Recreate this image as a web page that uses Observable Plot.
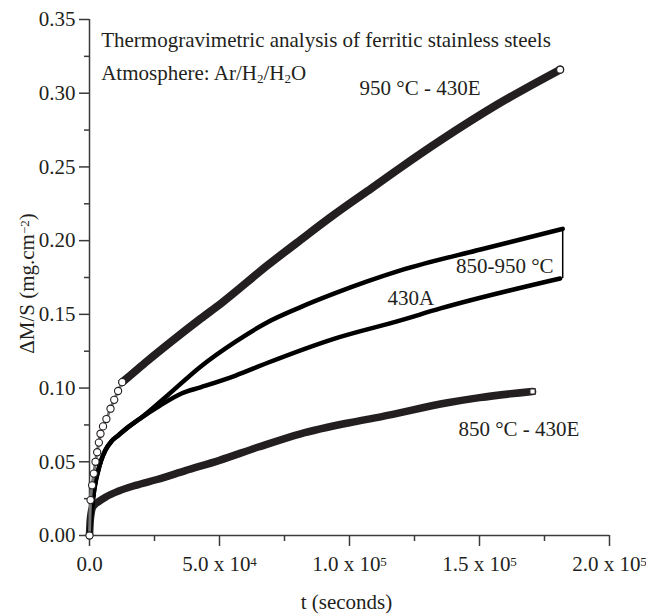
<!DOCTYPE html>
<html>
<head>
<meta charset="utf-8">
<script src="https://cdn.jsdelivr.net/npm/d3@7"></script>
<script src="https://cdn.jsdelivr.net/npm/@observablehq/plot@0.6"></script>
<style>
  html, body { margin: 0; padding: 0; background: #fff; }
</style>
</head>
<body>
<div id="chart"></div>
<script>
// ---- data (t in seconds, ΔM/S in mg.cm^-2) ----
const s950E = [
  [0, 0], [400, 0.024], [1000, 0.034], [1650, 0.042], [2300, 0.050], [2950, 0.0565],
  [3600, 0.063], [4230, 0.069], [5200, 0.074], [6500, 0.079], [8080, 0.086], [9500, 0.092],
  [11000, 0.098], [12600, 0.104], [16000, 0.109], [22000, 0.118], [31800, 0.132],
  [42700, 0.147], [51000, 0.158], [68300, 0.183], [81200, 0.2005], [94000, 0.2175],
  [106800, 0.2335], [119600, 0.2495], [135000, 0.268], [157000, 0.2925], [181000, 0.316]
];
const s430A_high = [
  [0, 0], [300, 0.008], [800, 0.016], [1500, 0.027], [2300, 0.036], [3200, 0.043],
  [4300, 0.050], [6150, 0.058], [8500, 0.064], [11150, 0.068], [14500, 0.073], [19600, 0.0795],
  [30000, 0.095], [42700, 0.1145], [56200, 0.1315], [68300, 0.1445], [81200, 0.1549],
  [94000, 0.164], [106800, 0.1723], [119600, 0.1798], [150400, 0.194], [182000, 0.208]
];
const s430A_low = [
  [0, 0], [300, 0.008], [800, 0.016], [1500, 0.027], [2300, 0.036], [3200, 0.043],
  [4300, 0.050], [6150, 0.058], [8500, 0.064], [11150, 0.068], [14500, 0.073], [19600, 0.0795],
  [27000, 0.088], [35600, 0.0965], [42700, 0.1005], [56200, 0.1085], [68300, 0.117],
  [94000, 0.1334], [119600, 0.1459], [135000, 0.154], [181000, 0.1743]
];
const s850E = [
  [0, 0], [200, 0.008], [600, 0.015], [1150, 0.019], [2000, 0.021], [3500, 0.023],
  [6150, 0.026], [11000, 0.030], [17700, 0.034], [26000, 0.038], [36900, 0.044],
  [50000, 0.051], [65000, 0.060], [81200, 0.069], [100000, 0.0765], [112000, 0.0805],
  [137700, 0.090], [150000, 0.0935], [170400, 0.0977]
];

const yMajor = [0, 0.05, 0.10, 0.15, 0.20, 0.25, 0.30, 0.35];
const yMinor = [0.025, 0.075, 0.125, 0.175, 0.225, 0.275, 0.325];
const xMajor = [0, 50000, 100000, 150000, 200000];
const xMajorLabels = ["0.0", "5.0 x 10^{4}", "1.0 x 10^{5}", "1.5 x 10^{5}", "2.0 x 10^{5}"];
const xMinor = [25000, 75000, 125000, 175000];

const titleLines = ["Thermogravimetric analysis of ferritic stainless steels", "Atmosphere: Ar/H_{2}/H_{2}O"];
const xLabel = "t (seconds)";
const yLabel = "ΔM/S (mg.cm^{−2})";

// annotation anchors, in data units
const labelsStart = [
  {text: titleLines[0], t: 4500, v: 0.3358},
  {text: titleLines[1], t: 4500, v: 0.3134},
  {text: "430A", t: 114600, v: 0.1608},
  {text: "850 °C - 430E", t: 141900, v: 0.0719}
];
const labelsEnd = [
  {text: "950 °C - 430E", t: 150400, v: 0.3031},
  {text: "850-950 °C", t: 178500, v: 0.1825}
];

// ---- chart ----
const INK = "#231f20";
const AX = "#3a3a3a";
const knee = 12600;
const early950 = s950E.filter(d => d[0] <= knee);
const late950 = s950E.filter(d => d[0] >= knee);
const X = d => d[0], Y = d => d[1];
const bracket = [{t: s430A_high.at(-1)[0], v1: s430A_low.at(-1)[1], v2: s430A_high.at(-1)[1]}];

const plot = Plot.plot({
  width: 646,
  height: 616,
  marginLeft: 89,
  marginRight: 37,
  marginTop: 19,
  marginBottom: 81,
  x: {domain: [0, 200000]},
  y: {domain: [0, 0.35]},
  style: {fontFamily: "'Liberation Serif', 'Times New Roman', serif", fontSize: "21px", background: "#fff", color: INK},
  marks: [
    Plot.axisY(yMajor, {tickSize: 10, tickPadding: 4, tickFormat: d3.format(".2f"), stroke: AX, strokeWidth: 1.5, fill: INK, label: null}),
    Plot.axisY(yMinor, {tickSize: 5, tickFormat: () => "", stroke: AX, strokeWidth: 1.5, label: null}),
    Plot.axisX(xMajor, {tickSize: 11, tickPadding: 10, tickFormat: d => xMajorLabels[xMajor.indexOf(d)], stroke: AX, strokeWidth: 1.5, fill: INK, label: null}),
    Plot.axisX(xMinor, {tickSize: 6, tickFormat: () => "", stroke: AX, strokeWidth: 1.5, label: null}),
    Plot.ruleX([0], {stroke: AX, strokeWidth: 1.5}),
    Plot.ruleY([0], {stroke: AX, strokeWidth: 1.5}),
    // 850 °C - 430E
    Plot.line(s850E, {x: X, y: Y, stroke: INK, strokeWidth: 7.5, curve: "monotone-x"}),
    // 430A 850-950 °C
    Plot.line(s430A_low, {x: X, y: Y, stroke: "#000", strokeWidth: 4.5, curve: "monotone-x"}),
    Plot.line(s430A_high, {x: X, y: Y, stroke: "#000", strokeWidth: 4.5, curve: "monotone-x"}),
    Plot.ruleX(bracket, {x: "t", y1: "v1", y2: "v2", stroke: "#000", strokeWidth: 1.5}),
    Plot.dot(s430A_high.filter(d => d[0] > 0 && d[0] <= 4300), {x: X, y: Y, r: 2.2, fill: "#000"}),
    // 950 °C - 430E
    Plot.line(late950, {x: X, y: Y, stroke: INK, strokeWidth: 8, curve: "monotone-x"}),
    Plot.line(early950, {x: X, y: Y, stroke: "#777", strokeWidth: 3, curve: "monotone-x"}),
    Plot.dot(early950, {x: X, y: Y, r: 3.6, fill: "#fff", stroke: INK, strokeWidth: 1.1}),
    Plot.dot([s950E.at(-1)], {x: X, y: Y, r: 3.5, fill: "#fff", stroke: INK, strokeWidth: 1.2}),
    Plot.dot([s850E.at(-1)], {x: X, y: Y, symbol: "square", r: 3, fill: "#fff", stroke: INK, strokeWidth: 1.2}),
    // annotations
    Plot.text(labelsStart, {x: "t", y: "v", text: "text", textAnchor: "start", fill: INK, lineAnchor: "middle"}),
    Plot.text(labelsEnd, {x: "t", y: "v", text: "text", textAnchor: "end", fill: INK, lineAnchor: "middle"}),
    Plot.text([xLabel], {frameAnchor: "bottom", dx: -3, dy: 67, text: d => d, textAnchor: "middle", fill: INK, lineAnchor: "middle"}),
    Plot.text([yLabel], {frameAnchor: "left", dx: -62, dy: 6, rotate: -90, text: d => d, textAnchor: "middle", fill: INK, lineAnchor: "middle"})
  ]
});

// render ^{..} and _{..} as real super/subscript tspans
function richText(svg) {
  d3.select(svg).selectAll("text").each(function () {
    const s = this.textContent;
    if (!/[\^_]\{/.test(s) || this.querySelector("tspan")) return;
    this.textContent = "";
    const re = /([\^_])\{([^}]*)\}/g;
    let last = 0, m;
    while ((m = re.exec(s))) {
      if (m.index > last) this.appendChild(document.createTextNode(s.slice(last, m.index)));
      const ts = document.createElementNS("http://www.w3.org/2000/svg", "tspan");
      ts.setAttribute("baseline-shift", m[1] === "^" ? "42%" : "-22%");
      ts.setAttribute("font-size", "0.62em");
      ts.textContent = m[2];
      this.appendChild(ts);
      last = re.lastIndex;
    }
    if (last < s.length) this.appendChild(document.createTextNode(s.slice(last)));
  });
}
richText(plot);
document.getElementById("chart").appendChild(plot);
</script>
</body>
</html>
